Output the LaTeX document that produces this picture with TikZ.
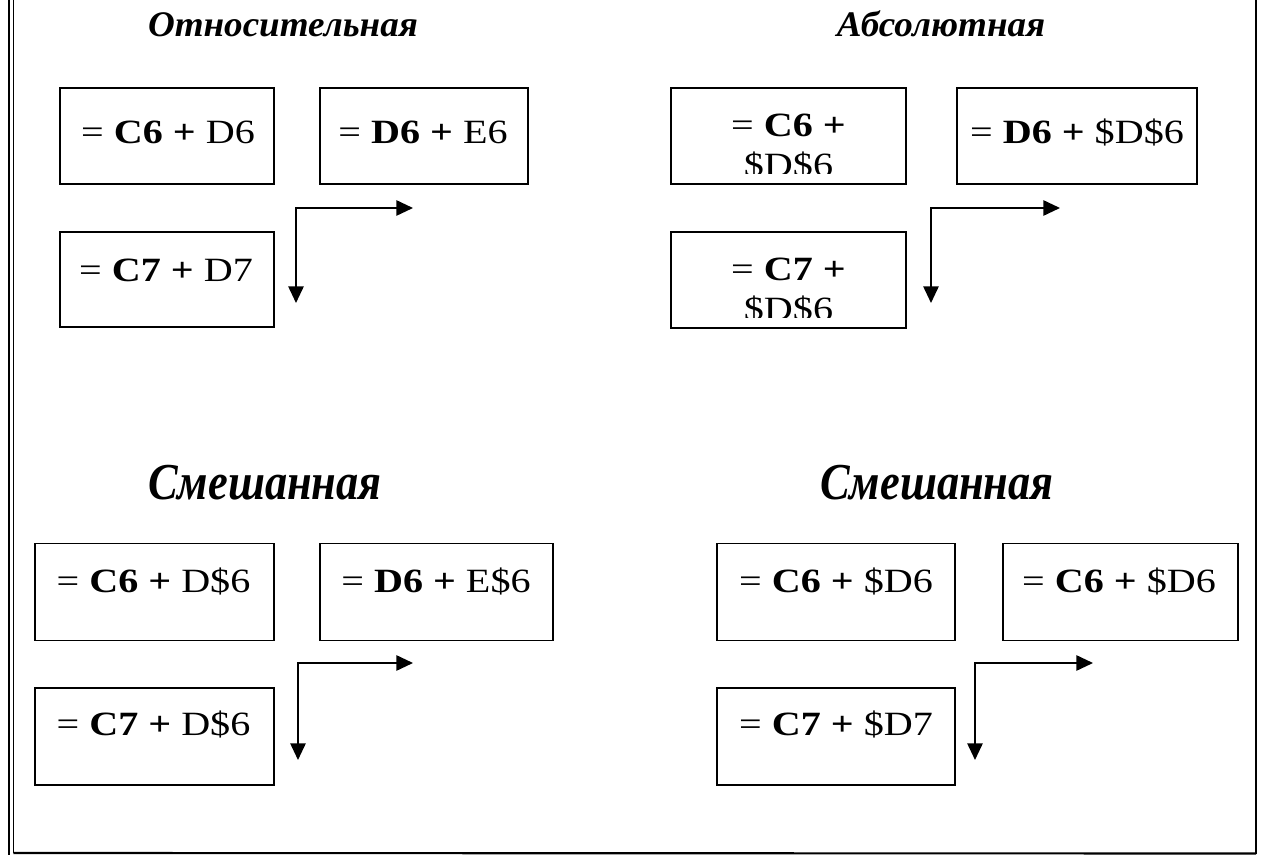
\documentclass[tikz,border=0pt]{standalone}
\usepackage{fontspec}
\setmainfont{Liberation Serif}
\usetikzlibrary{arrows.meta}
% horizontally widened text
\newcommand\wideby[2]{\scalebox{#1}[1]{#2}}
\newcommand\fx[1]{\wideby{1.18}{#1}}
\newcommand\hx[1]{\wideby{1.03}{#1}}
\newcommand\sx[1]{\scalebox{0.9}[1.05]{#1}}
\tikzset{
  cell/.style args={#1x#2}{draw, line width=1.4pt, inner sep=0pt, outer sep=0pt,
    minimum width=#1*0.75pt, minimum height=#2*0.75pt},
  formula/.style={anchor=base, inner sep=0pt, font=\fontsize{25.5}{30}\selectfont},
  heading/.style={anchor=base, inner sep=0pt, font=\fontsize{27}{32}\selectfont\bfseries\itshape},
  subheading/.style={anchor=base, inner sep=0pt, font=\fontsize{37}{44}\selectfont\bfseries\itshape},
  copyarrow/.style={line width=1.3pt, {Triangle[length=12.5pt,width=11.5pt]}-{Triangle[length=12.5pt,width=11.5pt]}},
  frameline/.style={line width=#1, line cap=butt}
}
\begin{document}
\begin{tikzpicture}[x=0.75pt, y=-0.75pt]
\useasboundingbox (0,0) rectangle (1261,855);

% page frame: double rule on the left, single rule on the right and bottom
\coordinate (fl1) at (9,0);   \coordinate (fl2) at (9,855);
\coordinate (ft1) at (13.5,0); \coordinate (ft2) at (13.5,853);
\coordinate (fr1) at (1256,0); \coordinate (fr2) at (1256,853.5);
\draw[frameline=2.2pt] (fl1) -- (fl2);
\draw[frameline=1.1pt] (ft1) -- (ft2);
\draw[frameline=2.2pt] (fr1) -- (fr2);
\draw[frameline=1.6pt] (ft2) -- (fr2);

% ---------- relative references ----------
\node[heading] (h1) at (283,37) {\hx{Относительная}};
\node[cell=214x96] (a1) at (167,136) {};
\node[cell=208x96] (a2) at (424,136) {};
\node[cell=214x95] (a3) at (167,279.5) {};
\node[formula] (a1t) at (168,144) {\fx{= \textbf{C6 + }D6}};
\node[formula] (a2t) at (423,144) {\fx{= \textbf{D6 + }E6}};
\node[formula] (a3t) at (166,282) {\fx{= \textbf{C7 + }D7}};
\coordinate (a4r) at (413,208);
\coordinate (a4d) at (296,303);
\draw[copyarrow] (a4r) -| (a4d);

% ---------- absolute references ----------
\node[heading] (h2) at (941,37) {\hx{Абсолютная}};
\node[cell=235x96] (b1) at (788.5,136) {};
\node[cell=240x96] (b2) at (1077,136) {};
\node[cell=235x96] (b3) at (788.5,280) {};
\node[formula] (b1t) at (788.5,137) {\fx{= \textbf{C6 +}}};
\node[formula] (b2t) at (1077,144) {\fx{= \textbf{D6 + }\$D\$6}};
\node[formula] (b3t) at (788.5,281) {\fx{= \textbf{C7 +}}};
\begin{scope}
  \clip ([yshift=7.5pt]b1.south west) rectangle (b1.north east);
  \node[formula] (b1s) at (788.5,177) {\fx{\$D\$6}};
\end{scope}
\begin{scope}
  \clip ([yshift=7.5pt]b3.south west) rectangle (b3.north east);
  \node[formula] (b3s) at (788.5,321) {\fx{\$D\$6}};
\end{scope}
\coordinate (b4r) at (1060,208);
\coordinate (b4d) at (931,303);
\draw[copyarrow] (b4r) -| (b4d);

% ---------- mixed references, row fixed ----------
\node[subheading] (h3) at (265,500) {\sx{Смешанная}};
\node[cell=239x97] (c1) at (154.5,592) {};
\node[cell=233x97] (c2) at (436.5,592) {};
\node[cell=239x97] (c3) at (154.5,736.5) {};
\node[formula] (c1t) at (153.5,592) {\fx{= \textbf{C6 + }D\$6}};
\node[formula] (c2t) at (436,592) {\fx{= \textbf{D6 + }E\$6}};
\node[formula] (c3t) at (153.5,735) {\fx{= \textbf{C7 + }D\$6}};
\coordinate (c4r) at (413,663);
\coordinate (c4d) at (298,760);
\draw[copyarrow] (c4r) -| (c4d);

% ---------- mixed references, column fixed ----------
\node[subheading] (h4) at (937,500) {\sx{Смешанная}};
\node[cell=238x97] (d1) at (836,592) {};
\node[cell=235x97] (d2) at (1120.5,592) {};
\node[cell=238x97] (d3) at (836,736.5) {};
\node[formula] (d1t) at (836,592) {\fx{= \textbf{C6 + }\$D6}};
\node[formula] (d2t) at (1119,592) {\fx{= \textbf{C6 + }\$D6}};
\node[formula] (d3t) at (836,735) {\fx{= \textbf{C7 + }\$D7}};
\coordinate (d4r) at (1093,663);
\coordinate (d4d) at (975,760);
\draw[copyarrow] (d4r) -| (d4d);
\end{tikzpicture}
\end{document}
